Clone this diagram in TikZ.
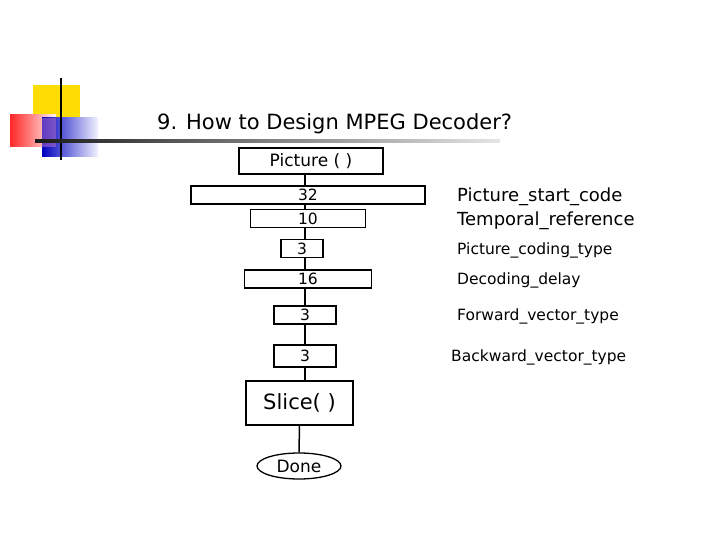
\documentclass[tikz,border=0pt]{standalone}
\usepackage{fontspec}
\usetikzlibrary{shapes.geometric}
\setmainfont{DejaVu Sans}
\begin{document}
\begin{tikzpicture}[x=1pt,y=-1pt,
  bx/.style={draw,line width=1.3pt,minimum height=18pt,inner sep=0pt,font=\fontsize{15.5}{17}\selectfont},
  lab/.style={anchor=west,inner sep=0pt,font=\fontsize{15.5}{17}\selectfont}]
\useasboundingbox (0,0) rectangle (720,540);
% logo
\fill[yellow!80!orange] (33,85) rectangle (80,130);
\shade[left color=red!85, right color=red!5] (10,115) rectangle (56,147);
\shade[left color=blue!75!black, right color=blue!5] (42,118) rectangle (98,157);
\fill[red!40!blue!60, opacity=0.6] (42,118) rectangle (56,147);
\draw[line width=2pt] (61,78) -- (61,160);
\shade[left color=black!90, right color=black!10] (35,140) rectangle (500,142.5);
\node[anchor=base west,inner sep=0pt,font=\fontsize{21}{24}\selectfont] (title) at (157,130) {9. How to Design MPEG Decoder?};
% boxes
\node[bx,minimum width=144pt,minimum height=26pt,font=\fontsize{17}{19}\selectfont] (p) at (311,161) {Picture ( )};
\node[bx,minimum width=234pt] (a) at (308,195) {32};
\node[bx,minimum width=115pt] (b) at (308,218.5) {10};
\node[bx,minimum width=42pt] (c) at (302,248.5) {3};
\node[bx,minimum width=127pt] (d) at (308,279) {16};
\node[bx,minimum width=62pt] (e) at (305,315) {3};
\node[bx,minimum width=62pt,minimum height=22pt] (f) at (305,356) {3};
\node[bx,minimum width=107pt,minimum height=44pt,font=\fontsize{21}{24}\selectfont] (s) at (299.5,403) {Slice( )};
\node[draw,ellipse,line width=1.3pt,minimum width=84pt,minimum height=26pt,inner sep=0pt,font=\fontsize{17}{19}\selectfont] (dn) at (299,466) {Done};
\foreach \u/\v in {p/a,a/b,b/c,c/d,d/e,e/f}
  \draw[line width=1.5pt] (\u.south -| 305,0) -- (\v.north -| 305,0);
\draw[line width=1.5pt] (f.south -| 305,0) -- (s.north -| 305,0);
\draw[line width=1.5pt] (s.south) -- (dn.north);
% labels
\node[lab,font=\fontsize{18}{20}\selectfont] (l1) at (457,197) {Picture\_start\_code};
\node[lab,font=\fontsize{18}{20}\selectfont] (l2) at (457,221) {Temporal\_reference};
\node[lab] (l3) at (457,250) {Picture\_coding\_type};
\node[lab] (l4) at (457,280) {Decoding\_delay};
\node[lab] (l5) at (457,316) {Forward\_vector\_type};
\node[lab] (l6) at (451,357) {Backward\_vector\_type};
\end{tikzpicture}
\end{document}
